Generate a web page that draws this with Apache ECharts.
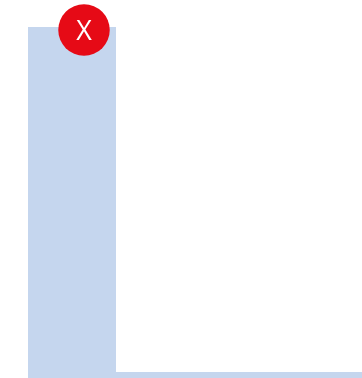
<!DOCTYPE html>
<html><head><meta charset="utf-8">
<style>html,body{margin:0;padding:0;background:#fff;overflow:hidden}#c{width:362px;height:378px}</style>
<script src="https://cdn.jsdelivr.net/npm/echarts@6/dist/echarts.min.js"></script>
</head><body><div id="c"></div>
<script>
const categories = ['A', 'B', 'C', 'D'];
const values = [100, 1.7, 1.7, 1.7];
const markerLabel = 'X';
const chart = echarts.init(document.getElementById('c'), null, {renderer:'canvas'});
chart.setOption({
  animation:false,
  grid:{left:28,top:27,width:352,height:351,outerBoundsMode:'none'},
  xAxis:{type:'category',data:categories,show:false,boundaryGap:true},
  yAxis:{type:'value',min:0,max:100,show:false},
  series:[{
    type:'bar',data:values,barWidth:'100%',
    itemStyle:{color:'#c5d6ee'},
    markPoint:{
      symbol:'circle',symbolSize:51.5,symbolOffset:[12,3],
      itemStyle:{color:'#e60a16'},
      label:{show:true,formatter:markerLabel,color:'#fff',fontSize:27,fontFamily:'Open Sans',offset:[0,2]},
      data:[{xAxis:0,yAxis:100}]
    }
  }]
});
</script></body></html>
